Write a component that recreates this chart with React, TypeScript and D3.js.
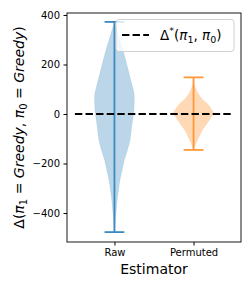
import React, { useEffect, useRef } from "react";
import * as d3 from "d3";

// estimators on the x axis
const estimators = ["Raw", "Permuted"];
const colors = ["#1f77b4", "#ff7f0e"];

// violin outlines: value and relative half-width
const rawProfile: [number, number][] = [
  [372, 0], [340, 0.12], [300, 0.27], [267, 0.4], [220, 0.56], [158, 0.76],
  [120, 0.88], [77, 1.0], [40, 1.0], [8, 0.98], [-24, 0.92], [-60, 0.86],
  [-105, 0.79], [-150, 0.64], [-186, 0.5], [-230, 0.38], [-267, 0.28],
  [-310, 0.2], [-347, 0.14], [-390, 0.09], [-428, 0.05], [-477, 0.02],
];
const permutedProfile: [number, number][] = [
  [148, 0], [117, 0.05], [84, 0.22], [60, 0.45], [43, 0.68], [20, 0.9],
  [3, 1.0], [-24, 0.8], [-45, 0.62], [-65, 0.45], [-105, 0.2], [-132, 0.05],
  [-145, 0],
];
const profiles = [rawProfile, permutedProfile];
const extremes: [number, number][] = [[-477, 372], [-145, 148]];
const yTicks = [-400, -200, 0, 200, 400];
const deltaStar = 0;

function Chart() {
  const ref = useRef<SVGSVGElement>(null);

  useEffect(() => {
    const svg = d3.select(ref.current);
    svg.selectAll("*").remove();

    const x = d3.scaleLinear().domain([0.4, 2.6]).range([67, 241]);
    const y = d3.scaleLinear().domain([-517, 408]).range([242, 13]);
    const half = x(1.25) - x(1);
    const cap = x(1.125) - x(1);
    const font = "DejaVu Sans, sans-serif";

    const g = svg.append("g");

    profiles.forEach((prof, i) => {
      const cx = x(i + 1);
      const area = d3.area<[number, number]>()
        .y(d => y(d[0]))
        .x0(d => cx - d[1] * half)
        .x1(d => cx + d[1] * half)
        .curve(d3.curveCatmullRom);
      g.append("path")
        .attr("d", area(prof))
        .attr("fill", colors[i])
        .attr("fill-opacity", 0.3)
        .attr("stroke", colors[i])
        .attr("stroke-opacity", 0.15)
        .attr("stroke-width", 0.6);

      const [lo, hi] = extremes[i];
      const lineColor = i === 0 ? "#3b8bc2" : "#ff9838";
      g.append("line")
        .attr("x1", cx).attr("x2", cx)
        .attr("y1", y(lo)).attr("y2", y(hi))
        .attr("stroke", lineColor).attr("stroke-width", 1.8);
      [lo, hi].forEach(v => {
        g.append("line")
          .attr("x1", cx - cap).attr("x2", cx + cap)
          .attr("y1", y(v)).attr("y2", y(v))
          .attr("stroke", lineColor).attr("stroke-width", 1.8);
      });
    });

    // reference line
    g.append("line")
      .attr("x1", x(0.5)).attr("x2", x(2.5))
      .attr("y1", y(deltaStar)).attr("y2", y(deltaStar))
      .attr("stroke", "#000").attr("stroke-width", 2)
      .attr("stroke-dasharray", "7.4,3.2");

    // axes
    const yAxis = svg.append("g")
      .attr("transform", "translate(67,0)")
      .call(d3.axisLeft(y).tickValues(yTicks).tickSize(3.5).tickPadding(3.5)
        .tickFormat(d => (+d < 0 ? "\u2212" + Math.abs(+d) : String(d))));
    yAxis.select(".domain").remove();
    yAxis.selectAll("text").attr("font-size", 10).attr("font-family", font).attr("fill", "#000");

    const xAxis = svg.append("g")
      .attr("transform", "translate(0,242)")
      .call(d3.axisBottom(x).tickValues([1, 2]).tickSize(3.5).tickPadding(3.5)
        .tickFormat(d => estimators[+d - 1]));
    xAxis.select(".domain").remove();
    xAxis.selectAll("text").attr("font-size", 10).attr("font-family", font).attr("fill", "#000");

    svg.append("rect")
      .attr("x", 67).attr("y", 13).attr("width", 174).attr("height", 229)
      .attr("fill", "none").attr("stroke", "#000").attr("stroke-width", 0.9);

    // legend
    const lg = svg.append("g");
    lg.append("rect")
      .attr("x", 116).attr("y", 19.5).attr("width", 118).attr("height", 32).attr("rx", 3)
      .attr("fill", "#fff").attr("fill-opacity", 0.8)
      .attr("stroke", "#cccccc").attr("stroke-width", 0.9);
    lg.append("line")
      .attr("x1", 122).attr("x2", 149).attr("y1", 35).attr("y2", 35)
      .attr("stroke", "#000").attr("stroke-width", 2).attr("stroke-dasharray", "7.4,3.2");
    const lt = lg.append("text")
      .attr("x", 160).attr("y", 40)
      .attr("font-family", font).attr("font-size", 13.5).attr("fill", "#000");
    lt.append("tspan").text("\u0394");
    lt.append("tspan").attr("dy", -6).attr("font-size", 9.5).text("*");
    lt.append("tspan").attr("dy", 6).text("(");
    lt.append("tspan").attr("font-style", "italic").text("\u03c0");
    lt.append("tspan").attr("dy", 3).attr("font-size", 9.5).text("1");
    lt.append("tspan").attr("dy", -3).text(", ");
    lt.append("tspan").attr("font-style", "italic").text("\u03c0");
    lt.append("tspan").attr("dy", 3).attr("font-size", 9.5).text("0");
    lt.append("tspan").attr("dy", -3).text(")");

    // axis labels
    svg.append("text")
      .attr("x", 154).attr("y", 274)
      .attr("text-anchor", "middle")
      .attr("font-family", font).attr("font-size", 14).attr("fill", "#000")
      .text("Estimator");

    const yl = svg.append("text")
      .attr("transform", "translate(24,127.5) rotate(-90)")
      .attr("text-anchor", "middle")
      .attr("font-family", font).attr("font-size", 14).attr("fill", "#000");
    yl.append("tspan").text("\u0394(");
    yl.append("tspan").attr("font-style", "italic").text("\u03c0");
    yl.append("tspan").attr("dy", 3).attr("font-size", 10).text("1");
    yl.append("tspan").attr("dy", -3).text(" = ");
    yl.append("tspan").attr("font-style", "italic").text("Greedy");
    yl.append("tspan").text(", ");
    yl.append("tspan").attr("font-style", "italic").text("\u03c0");
    yl.append("tspan").attr("dy", 3).attr("font-size", 10).text("0");
    yl.append("tspan").attr("dy", -3).text(" = ");
    yl.append("tspan").attr("font-style", "italic").text("Greedy");
    yl.append("tspan").text(")");
  }, []);

  return <svg ref={ref} width={252} height={288} style={{ display: "block" }} />;
}

export default function App() {
  return (
    <div style={{ margin: -8 }}>
      <Chart />
    </div>
  );
}
